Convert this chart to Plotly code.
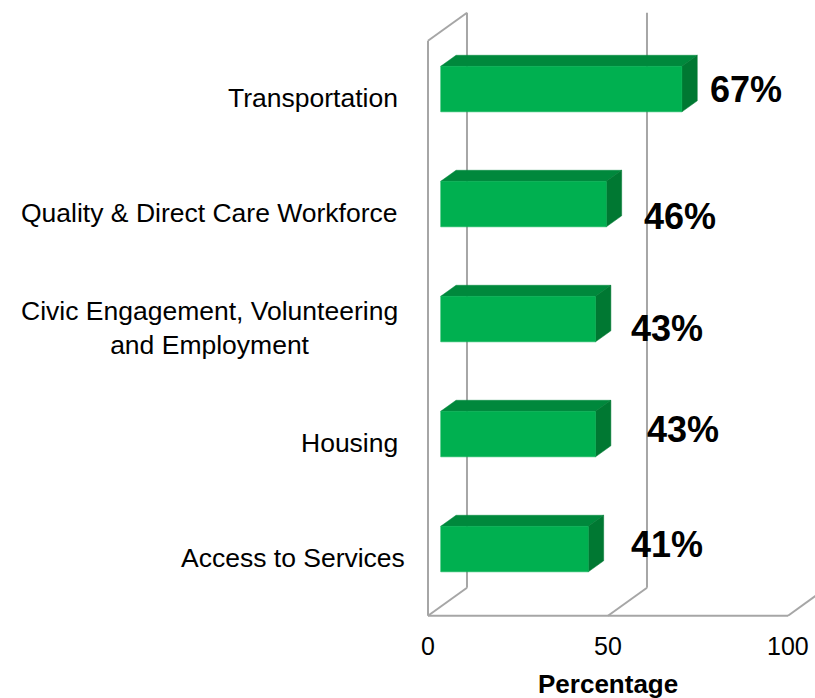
import plotly.graph_objects as go

# Survey results: share of respondents naming each area
categories = [
    "Access to Services",
    "Housing",
    "Civic Engagement, Volunteering<br>and Employment",
    "Quality & Direct Care Workforce",
    "Transportation",
]
values = [41, 43, 43, 46, 67]
x_ticks = [0, 50, 100]
axis_title = "Percentage"

# Hand-placed value label offsets (axis units, relative to bar end / row)
label_dx = [25.5, 27.9, 23.3, 24.0, 21.3]
label_dy = [0.115, 0.115, 0.0, -0.03, 0.08]
# Small horizontal nudges for the category labels (axis units)
cat_dx = [2.0, 0.0, 0.0, 0.0, 0.0]

# Pseudo-3D geometry (axis units)
DX, DY = 10.83, 0.2435          # depth vector of the chart box
F_DEPTH, B_DEPTH = 0.326, 0.72  # bar front/back position inside the depth
HALF_H = 0.198                  # half height of a bar's front face
Y_LO, Y_HI = -0.5, len(categories) - 0.5
X_MAX = x_ticks[-1]

FRONT = "#00B050"
TOP = "#00883C"
SIDE = "#007832"
GRID = "#A6A6A6"
FONT = "Liberation Sans, Arial, sans-serif"

fig = go.Figure()

# Walls, floor and gridlines
gx, gy = [], []
def seg(x0, y0, x1, y1):
    gx.extend([x0, x1, None])
    gy.extend([y0, y1, None])

seg(0, Y_LO, 0, Y_HI)                       # left wall front edge
seg(0, Y_HI, DX, Y_HI + DY)                 # left wall top edge
seg(0, Y_LO, X_MAX, Y_LO)                   # floor front edge
for t in x_ticks:
    seg(t, Y_LO, t + DX, Y_LO + DY)         # floor depth lines
    seg(t + DX, Y_LO + DY, t + DX, Y_HI + DY)  # back wall gridlines

fig.add_trace(go.Scatter(x=gx, y=gy, mode="lines",
                         line=dict(color=GRID, width=2),
                         hoverinfo="skip", showlegend=False))

# Bars as three filled faces each
dd = B_DEPTH - F_DEPTH
for i, v in enumerate(values):
    x0 = F_DEPTH * DX
    x1 = v + F_DEPTH * DX
    y0 = i - HALF_H + F_DEPTH * DY
    y1 = i + HALF_H + F_DEPTH * DY
    faces = [
        ([x0, x1, x1 + dd * DX, x0 + dd * DX, x0],
         [y1, y1, y1 + dd * DY, y1 + dd * DY, y1], TOP),
        ([x1, x1 + dd * DX, x1 + dd * DX, x1, x1],
         [y0, y0 + dd * DY, y1 + dd * DY, y1, y0], SIDE),
        ([x0, x1, x1, x0, x0],
         [y0, y0, y1, y1, y0], FRONT),
    ]
    for fx, fy, col in faces:
        fig.add_trace(go.Scatter(x=fx, y=fy, mode="lines", fill="toself",
                                 fillcolor=col, line=dict(color=col, width=0.5),
                                 hoverinfo="skip", showlegend=False))

annotations = []
# Category labels
for i, c in enumerate(categories):
    annotations.append(dict(x=-7.7 + cat_dx[i], y=i, text=c, showarrow=False,
                            xanchor="right", yanchor="middle", align="center",
                            font=dict(family=FONT, size=26.5, color="black")))
# Value labels
for i, v in enumerate(values):
    annotations.append(dict(x=v + label_dx[i], y=i + label_dy[i],
                            text=f"<b>{v}%</b>", showarrow=False,
                            xanchor="center", yanchor="middle",
                            font=dict(family=FONT, size=36, color="black")))
# Tick labels
for t in x_ticks:
    annotations.append(dict(x=t, y=-0.765, text=str(t), showarrow=False,
                            xanchor="center", yanchor="middle",
                            font=dict(family=FONT, size=25, color="black")))
# Axis title
annotations.append(dict(x=X_MAX / 2, y=-1.09, text=f"<b>{axis_title}</b>",
                        showarrow=False, xanchor="center", yanchor="middle",
                        font=dict(family=FONT, size=26, color="black")))

W, H = 815, 698
px_per_x = 3.6
px_per_y = 115.0
x_origin_px = 428.0
floor_px = 615.7

fig.update_layout(
    width=W, height=H, autosize=False,
    margin=dict(l=0, r=0, t=0, b=0),
    paper_bgcolor="white", plot_bgcolor="white",
    showlegend=False,
    xaxis=dict(range=[-x_origin_px / px_per_x, (W - x_origin_px) / px_per_x],
               visible=False, fixedrange=True),
    yaxis=dict(range=[Y_LO - (H - floor_px) / px_per_y,
                      Y_LO + floor_px / px_per_y],
               visible=False, fixedrange=True),
    annotations=annotations,
)

fig.write_html("out.html")
